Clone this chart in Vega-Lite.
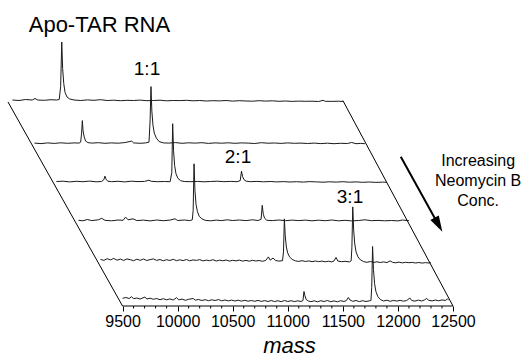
{
  "$schema": "https://vega.github.io/schema/vega-lite/v6.json",
  "width": 445,
  "height": 306,
  "autosize": {"type": "none"},
  "padding": {"left": 8, "top": 0, "right": 73, "bottom": 53},
  "background": "white",
  "config": {"view": {"stroke": null}, "font": "Liberation Sans"},
  "datasets": {
    "tr": [
      {"t":0,"m":9500,"i":1.5},{"t":0,"m":9560,"i":1.0},{"t":0,"m":9620,"i":2.0},{"t":0,"m":9680,"i":1.5},{"t":0,"m":9705,"i":3.0},{"t":0,"m":9730,"i":1.5},{"t":0,"m":9790,"i":1.2},{"t":0,"m":9850,"i":1.8},{"t":0,"m":9900,"i":1.5},{"t":0,"m":9925,"i":2.0},{"t":0,"m":9938,"i":15},{"t":0,"m":9948,"i":59.5},{"t":0,"m":9956,"i":33},{"t":0,"m":9966,"i":18},{"t":0,"m":9978,"i":9},{"t":0,"m":9996,"i":4.5},{"t":0,"m":10020,"i":2.5},{"t":0,"m":10060,"i":1.5},{"t":0,"m":10120,"i":1.0},{"t":0,"m":10180,"i":1.6},{"t":0,"m":10240,"i":1.2},{"t":0,"m":10300,"i":1.8},{"t":0,"m":10360,"i":1.0},{"t":0,"m":10420,"i":1.3},{"t":0,"m":10480,"i":0.8},{"t":0,"m":10540,"i":1.2},{"t":0,"m":10600,"i":1.0},{"t":0,"m":10660,"i":1.4},{"t":0,"m":10720,"i":0.8},{"t":0,"m":10780,"i":1.0},{"t":0,"m":10840,"i":1.3},{"t":0,"m":10900,"i":0.7},{"t":0,"m":10960,"i":1.0},{"t":0,"m":11020,"i":0.9},{"t":0,"m":11080,"i":1.2},{"t":0,"m":11140,"i":0.7},{"t":0,"m":11200,"i":1.0},{"t":0,"m":11260,"i":0.5},{"t":0,"m":11320,"i":0.8},{"t":0,"m":11380,"i":0.6},{"t":0,"m":11440,"i":1.0},{"t":0,"m":11500,"i":0.4},{"t":0,"m":11560,"i":0.8},{"t":0,"m":11620,"i":0.5},{"t":0,"m":11680,"i":0.3},{"t":0,"m":11740,"i":0.8},{"t":0,"m":11800,"i":0.4},{"t":0,"m":11860,"i":0.7},{"t":0,"m":11920,"i":0.2},{"t":0,"m":11980,"i":0.5},{"t":0,"m":12040,"i":0.1},{"t":0,"m":12100,"i":0.4},{"t":0,"m":12160,"i":0.2},{"t":0,"m":12220,"i":0.3},{"t":0,"m":12280,"i":0.0},{"t":0,"m":12320,"i":1.2},{"t":0,"m":12340,"i":0.2},{"t":0,"m":12400,"i":0.1},{"t":0,"m":12460,"i":0.3},{"t":0,"m":12500,"i":0.0},

      {"t":1,"m":9500,"i":-2},{"t":1,"m":9560,"i":-2.5},{"t":1,"m":9620,"i":-1.8},{"t":1,"m":9680,"i":-2.3},{"t":1,"m":9740,"i":-1.7},{"t":1,"m":9800,"i":-2.2},{"t":1,"m":9860,"i":-1.8},{"t":1,"m":9905,"i":-2},{"t":1,"m":9920,"i":-1},{"t":1,"m":9928,"i":8},{"t":1,"m":9935,"i":20.5},{"t":1,"m":9942,"i":10},{"t":1,"m":9952,"i":4},{"t":1,"m":9965,"i":0},{"t":1,"m":9985,"i":-1.5},{"t":1,"m":10020,"i":-2},{"t":1,"m":10080,"i":-1.6},{"t":1,"m":10140,"i":-2.2},{"t":1,"m":10200,"i":-1.8},{"t":1,"m":10260,"i":-2.1},{"t":1,"m":10320,"i":-1.5},{"t":1,"m":10383,"i":0},{"t":1,"m":10400,"i":-1.8},{"t":1,"m":10460,"i":-2.2},{"t":1,"m":10510,"i":-1.8},{"t":1,"m":10540,"i":-1},{"t":1,"m":10550,"i":20},{"t":1,"m":10558,"i":54.5},{"t":1,"m":10566,"i":30},{"t":1,"m":10576,"i":16},{"t":1,"m":10588,"i":8},{"t":1,"m":10607,"i":3},{"t":1,"m":10632,"i":-0.5},{"t":1,"m":10670,"i":-1.8},{"t":1,"m":10720,"i":-2},{"t":1,"m":10780,"i":-1.5},{"t":1,"m":10840,"i":-2.2},{"t":1,"m":10900,"i":-1.7},{"t":1,"m":10960,"i":-2.0},{"t":1,"m":11020,"i":-1.6},{"t":1,"m":11080,"i":-2.3},{"t":1,"m":11140,"i":-1.8},{"t":1,"m":11200,"i":-2.1},{"t":1,"m":11260,"i":-1.7},{"t":1,"m":11320,"i":-2.2},{"t":1,"m":11380,"i":-1.8},{"t":1,"m":11440,"i":-2.0},{"t":1,"m":11500,"i":-2.4},{"t":1,"m":11560,"i":-1.6},{"t":1,"m":11620,"i":-2.1},{"t":1,"m":11680,"i":-1.9},{"t":1,"m":11740,"i":-2.3},{"t":1,"m":11800,"i":-1.8},{"t":1,"m":11860,"i":-2.2},{"t":1,"m":11920,"i":-2.0},{"t":1,"m":11980,"i":-2.4},{"t":1,"m":12040,"i":-2.0},{"t":1,"m":12100,"i":-2.5},{"t":1,"m":12160,"i":-2.1},{"t":1,"m":12220,"i":-2.6},{"t":1,"m":12280,"i":-2.2},{"t":1,"m":12340,"i":-2.4},{"t":1,"m":12380,"i":-1.4},{"t":1,"m":12420,"i":-2.6},{"t":1,"m":12460,"i":-2.3},{"t":1,"m":12500,"i":-2.6},

      {"t":2,"m":9500,"i":-0.8},{"t":2,"m":9560,"i":-0.5},{"t":2,"m":9620,"i":-1.2},{"t":2,"m":9680,"i":-0.6},{"t":2,"m":9740,"i":-1.0},{"t":2,"m":9800,"i":-0.4},{"t":2,"m":9860,"i":-1.1},{"t":2,"m":9910,"i":-0.8},{"t":2,"m":9930,"i":1},{"t":2,"m":9940,"i":4.5},{"t":2,"m":9950,"i":1.5},{"t":2,"m":9965,"i":-0.5},{"t":2,"m":10000,"i":-1.0},{"t":2,"m":10060,"i":-0.6},{"t":2,"m":10120,"i":-1.2},{"t":2,"m":10180,"i":-0.5},{"t":2,"m":10240,"i":-0.9},{"t":2,"m":10300,"i":-0.7},{"t":2,"m":10340,"i":0.5},{"t":2,"m":10360,"i":-0.6},{"t":2,"m":10420,"i":-1.0},{"t":2,"m":10480,"i":-0.8},{"t":2,"m":10532,"i":-1.0},{"t":2,"m":10547,"i":8},{"t":2,"m":10555,"i":57},{"t":2,"m":10563,"i":30},{"t":2,"m":10573,"i":15},{"t":2,"m":10585,"i":7},{"t":2,"m":10602,"i":2.5},{"t":2,"m":10627,"i":0},{"t":2,"m":10660,"i":-0.8},{"t":2,"m":10720,"i":-1.0},{"t":2,"m":10780,"i":-0.7},{"t":2,"m":10840,"i":-1.1},{"t":2,"m":10900,"i":-0.8},{"t":2,"m":10960,"i":-0.5},{"t":2,"m":11020,"i":-1.0},{"t":2,"m":11080,"i":-0.7},{"t":2,"m":11140,"i":-1.0},{"t":2,"m":11168,"i":0},{"t":2,"m":11180,"i":9.5},{"t":2,"m":11190,"i":4},{"t":2,"m":11203,"i":1},{"t":2,"m":11223,"i":-0.5},{"t":2,"m":11260,"i":-1.0},{"t":2,"m":11320,"i":-0.7},{"t":2,"m":11380,"i":-1.1},{"t":2,"m":11440,"i":-0.8},{"t":2,"m":11500,"i":-1.2},{"t":2,"m":11560,"i":-0.9},{"t":2,"m":11620,"i":-1.3},{"t":2,"m":11680,"i":-1.0},{"t":2,"m":11740,"i":-1.4},{"t":2,"m":11800,"i":-0.9},{"t":2,"m":11860,"i":-1.2},{"t":2,"m":11920,"i":-1.5},{"t":2,"m":11980,"i":-1.1},{"t":2,"m":12040,"i":-1.4},{"t":2,"m":12100,"i":-1.0},{"t":2,"m":12160,"i":-1.5},{"t":2,"m":12220,"i":-1.2},{"t":2,"m":12280,"i":-1.6},{"t":2,"m":12340,"i":-1.3},{"t":2,"m":12400,"i":-1.7},{"t":2,"m":12460,"i":-1.4},{"t":2,"m":12500,"i":-1.6},

      {"t":3,"m":9500,"i":0},{"t":3,"m":9540,"i":-0.5},{"t":3,"m":9580,"i":0.8},{"t":3,"m":9620,"i":-0.3},{"t":3,"m":9680,"i":0.5},{"t":3,"m":9711,"i":2.0},{"t":3,"m":9740,"i":0},{"t":3,"m":9800,"i":-0.5},{"t":3,"m":9860,"i":0.3},{"t":3,"m":9905,"i":0},{"t":3,"m":9928,"i":3.2},{"t":3,"m":9950,"i":0.5},{"t":3,"m":9995,"i":1.5},{"t":3,"m":10030,"i":-0.3},{"t":3,"m":10090,"i":0.2},{"t":3,"m":10150,"i":-0.6},{"t":3,"m":10210,"i":0.3},{"t":3,"m":10270,"i":-0.4},{"t":3,"m":10330,"i":0.2},{"t":3,"m":10376,"i":1.5},{"t":3,"m":10400,"i":-0.2},{"t":3,"m":10460,"i":0.3},{"t":3,"m":10510,"i":-0.3},{"t":3,"m":10533,"i":0.5},{"t":3,"m":10541,"i":10},{"t":3,"m":10549,"i":56.5},{"t":3,"m":10557,"i":30},{"t":3,"m":10567,"i":16},{"t":3,"m":10579,"i":9},{"t":3,"m":10596,"i":4},{"t":3,"m":10620,"i":1.5},{"t":3,"m":10650,"i":0},{"t":3,"m":10700,"i":-0.5},{"t":3,"m":10750,"i":0.2},{"t":3,"m":10800,"i":-0.3},{"t":3,"m":10850,"i":0.5},{"t":3,"m":10900,"i":-0.2},{"t":3,"m":10960,"i":0.3},{"t":3,"m":11020,"i":-0.3},{"t":3,"m":11080,"i":0.5},{"t":3,"m":11130,"i":-0.2},{"t":3,"m":11158,"i":1},{"t":3,"m":11168,"i":15},{"t":3,"m":11178,"i":6},{"t":3,"m":11190,"i":2},{"t":3,"m":11210,"i":0},{"t":3,"m":11260,"i":-0.3},{"t":3,"m":11320,"i":0.3},{"t":3,"m":11380,"i":-0.4},{"t":3,"m":11440,"i":0.2},{"t":3,"m":11500,"i":-0.3},{"t":3,"m":11560,"i":0.2},{"t":3,"m":11620,"i":-0.5},{"t":3,"m":11680,"i":0.1},{"t":3,"m":11740,"i":-0.4},{"t":3,"m":11800,"i":0.3},{"t":3,"m":11860,"i":-0.5},{"t":3,"m":11920,"i":0.0},{"t":3,"m":11980,"i":-0.6},{"t":3,"m":12040,"i":-0.2},{"t":3,"m":12100,"i":0.5},{"t":3,"m":12160,"i":-0.4},{"t":3,"m":12220,"i":-0.1},{"t":3,"m":12280,"i":-0.5},{"t":3,"m":12340,"i":-0.2},{"t":3,"m":12400,"i":-0.6},{"t":3,"m":12440,"i":0.3},{"t":3,"m":12500,"i":-0.4},

      {"t":4,"m":9500,"i":0.5},{"t":4,"m":9530,"i":-0.5},{"t":4,"m":9560,"i":1.2},{"t":4,"m":9590,"i":0},{"t":4,"m":9620,"i":1.5},{"t":4,"m":9650,"i":-0.3},{"t":4,"m":9680,"i":0.8},{"t":4,"m":9710,"i":-0.5},{"t":4,"m":9740,"i":1.0},{"t":4,"m":9770,"i":0.2},{"t":4,"m":9800,"i":-0.8},{"t":4,"m":9830,"i":0.7},{"t":4,"m":9860,"i":-0.4},{"t":4,"m":9890,"i":0.9},{"t":4,"m":9920,"i":-0.6},{"t":4,"m":9950,"i":0.3},{"t":4,"m":9980,"i":1.0},{"t":4,"m":10010,"i":-0.5},{"t":4,"m":10040,"i":0.4},{"t":4,"m":10070,"i":-0.9},{"t":4,"m":10100,"i":0.2},{"t":4,"m":10130,"i":-0.6},{"t":4,"m":10160,"i":0.6},{"t":4,"m":10190,"i":-0.8},{"t":4,"m":10220,"i":0.1},{"t":4,"m":10250,"i":-0.7},{"t":4,"m":10280,"i":0.4},{"t":4,"m":10310,"i":-0.9},{"t":4,"m":10340,"i":0.0},{"t":4,"m":10370,"i":-0.5},{"t":4,"m":10400,"i":0.3},{"t":4,"m":10430,"i":-1.0},{"t":4,"m":10460,"i":-0.2},{"t":4,"m":10490,"i":-0.8},{"t":4,"m":10520,"i":0.2},{"t":4,"m":10550,"i":-1.1},{"t":4,"m":10580,"i":-0.3},{"t":4,"m":10610,"i":-0.9},{"t":4,"m":10640,"i":-0.1},{"t":4,"m":10670,"i":-1.2},{"t":4,"m":10700,"i":-0.4},{"t":4,"m":10730,"i":-1.0},{"t":4,"m":10760,"i":-0.2},{"t":4,"m":10790,"i":-1.2},{"t":4,"m":10820,"i":-0.5},{"t":4,"m":10850,"i":-1.3},{"t":4,"m":10880,"i":-0.4},{"t":4,"m":10910,"i":-1.1},{"t":4,"m":10940,"i":-0.6},{"t":4,"m":10970,"i":-1.4},{"t":4,"m":11000,"i":-0.5},{"t":4,"m":11024,"i":3.0},{"t":4,"m":11040,"i":-0.2},{"t":4,"m":11066,"i":1.8},{"t":4,"m":11090,"i":-0.6},{"t":4,"m":11120,"i":-1.2},{"t":4,"m":11152,"i":-0.8},{"t":4,"m":11161,"i":8},{"t":4,"m":11169,"i":41},{"t":4,"m":11177,"i":24},{"t":4,"m":11187,"i":13},{"t":4,"m":11199,"i":7},{"t":4,"m":11216,"i":3},{"t":4,"m":11240,"i":0.5},{"t":4,"m":11270,"i":-1.0},{"t":4,"m":11300,"i":-1.5},{"t":4,"m":11330,"i":-0.8},{"t":4,"m":11360,"i":-1.6},{"t":4,"m":11390,"i":-1.0},{"t":4,"m":11420,"i":-1.8},{"t":4,"m":11450,"i":-1.1},{"t":4,"m":11480,"i":-1.7},{"t":4,"m":11510,"i":-1.2},{"t":4,"m":11540,"i":-1.9},{"t":4,"m":11570,"i":-1.3},{"t":4,"m":11600,"i":-2.0},{"t":4,"m":11620,"i":-1.0},{"t":4,"m":11638,"i":2.5},{"t":4,"m":11655,"i":-1.2},{"t":4,"m":11690,"i":-1.8},{"t":4,"m":11720,"i":-1.4},{"t":4,"m":11760,"i":-2.0},{"t":4,"m":11775,"i":-1.0},{"t":4,"m":11782,"i":12},{"t":4,"m":11790,"i":53},{"t":4,"m":11798,"i":30},{"t":4,"m":11808,"i":16},{"t":4,"m":11820,"i":8},{"t":4,"m":11837,"i":3},{"t":4,"m":11860,"i":0},{"t":4,"m":11890,"i":-1.8},{"t":4,"m":11920,"i":-2.4},{"t":4,"m":11950,"i":-1.6},{"t":4,"m":11980,"i":-2.5},{"t":4,"m":12010,"i":-1.9},{"t":4,"m":12040,"i":-2.6},{"t":4,"m":12070,"i":-2.0},{"t":4,"m":12100,"i":-2.7},{"t":4,"m":12129,"i":-1.0},{"t":4,"m":12150,"i":-2.4},{"t":4,"m":12180,"i":-2.9},{"t":4,"m":12210,"i":-2.2},{"t":4,"m":12240,"i":-3.0},{"t":4,"m":12270,"i":-2.4},{"t":4,"m":12300,"i":-2.8},{"t":4,"m":12330,"i":-2.5},{"t":4,"m":12360,"i":-3.1},{"t":4,"m":12390,"i":-2.6},{"t":4,"m":12420,"i":-3.2},{"t":4,"m":12450,"i":-2.7},{"t":4,"m":12480,"i":-3.1},{"t":4,"m":12500,"i":-2.9},

      {"t":5,"m":9500,"i":1.2},{"t":5,"m":9530,"i":2.0},{"t":5,"m":9560,"i":1.0},{"t":5,"m":9582,"i":2.8},{"t":5,"m":9600,"i":0.8},{"t":5,"m":9630,"i":1.5},{"t":5,"m":9660,"i":0.5},{"t":5,"m":9703,"i":2.5},{"t":5,"m":9720,"i":0.5},{"t":5,"m":9750,"i":1.3},{"t":5,"m":9780,"i":0.2},{"t":5,"m":9810,"i":1.0},{"t":5,"m":9840,"i":-0.2},{"t":5,"m":9870,"i":0.8},{"t":5,"m":9900,"i":-0.3},{"t":5,"m":9930,"i":0.6},{"t":5,"m":9960,"i":-0.5},{"t":5,"m":9990,"i":1.8},{"t":5,"m":10010,"i":-0.3},{"t":5,"m":10040,"i":0.4},{"t":5,"m":10070,"i":-0.8},{"t":5,"m":10100,"i":0.2},{"t":5,"m":10142,"i":1.0},{"t":5,"m":10160,"i":-0.7},{"t":5,"m":10190,"i":0.0},{"t":5,"m":10220,"i":-1.0},{"t":5,"m":10250,"i":-0.2},{"t":5,"m":10280,"i":-1.2},{"t":5,"m":10310,"i":-0.3},{"t":5,"m":10340,"i":-1.0},{"t":5,"m":10370,"i":-0.1},{"t":5,"m":10400,"i":-1.3},{"t":5,"m":10430,"i":-0.5},{"t":5,"m":10460,"i":-1.4},{"t":5,"m":10490,"i":-0.6},{"t":5,"m":10520,"i":-1.5},{"t":5,"m":10550,"i":-0.7},{"t":5,"m":10580,"i":-1.6},{"t":5,"m":10610,"i":-0.8},{"t":5,"m":10640,"i":-1.7},{"t":5,"m":10670,"i":-1.0},{"t":5,"m":10700,"i":-1.8},{"t":5,"m":10730,"i":-0.9},{"t":5,"m":10760,"i":-1.9},{"t":5,"m":10790,"i":-1.1},{"t":5,"m":10820,"i":-2.0},{"t":5,"m":10850,"i":-1.0},{"t":5,"m":10880,"i":-2.1},{"t":5,"m":10910,"i":-1.2},{"t":5,"m":10940,"i":-2.2},{"t":5,"m":10970,"i":-1.0},{"t":5,"m":11000,"i":-2.0},{"t":5,"m":11030,"i":-1.2},{"t":5,"m":11060,"i":-2.1},{"t":5,"m":11090,"i":-1.3},{"t":5,"m":11120,"i":-2.0},{"t":5,"m":11138,"i":-1.0},{"t":5,"m":11147,"i":8},{"t":5,"m":11155,"i":4},{"t":5,"m":11167,"i":0},{"t":5,"m":11187,"i":-1.5},{"t":5,"m":11210,"i":-2.2},{"t":5,"m":11240,"i":-1.3},{"t":5,"m":11270,"i":-2.3},{"t":5,"m":11300,"i":-1.2},{"t":5,"m":11330,"i":-2.0},{"t":5,"m":11360,"i":-1.0},{"t":5,"m":11390,"i":-2.2},{"t":5,"m":11420,"i":-1.4},{"t":5,"m":11450,"i":-2.3},{"t":5,"m":11480,"i":-1.2},{"t":5,"m":11510,"i":-2.0},{"t":5,"m":11532,"i":-1.0},{"t":5,"m":11550,"i":2.0},{"t":5,"m":11565,"i":-0.5},{"t":5,"m":11590,"i":-1.8},{"t":5,"m":11620,"i":-1.0},{"t":5,"m":11650,"i":-2.1},{"t":5,"m":11680,"i":-1.2},{"t":5,"m":11710,"i":-2.0},{"t":5,"m":11740,"i":-1.3},{"t":5,"m":11755,"i":-1.0},{"t":5,"m":11762,"i":12},{"t":5,"m":11770,"i":53},{"t":5,"m":11778,"i":30},{"t":5,"m":11788,"i":16},{"t":5,"m":11800,"i":8},{"t":5,"m":11817,"i":3},{"t":5,"m":11840,"i":0},{"t":5,"m":11870,"i":-1.5},{"t":5,"m":11900,"i":-0.7},{"t":5,"m":11930,"i":-1.8},{"t":5,"m":11960,"i":-0.9},{"t":5,"m":11990,"i":-1.6},{"t":5,"m":12020,"i":-0.8},{"t":5,"m":12050,"i":-1.7},{"t":5,"m":12080,"i":-1.0},{"t":5,"m":12108,"i":1.5},{"t":5,"m":12125,"i":-1.0},{"t":5,"m":12155,"i":-1.6},{"t":5,"m":12185,"i":-0.6},{"t":5,"m":12215,"i":-1.5},{"t":5,"m":12240,"i":-0.5},{"t":5,"m":12260,"i":1.0},{"t":5,"m":12280,"i":-0.8},{"t":5,"m":12310,"i":-1.4},{"t":5,"m":12340,"i":-0.5},{"t":5,"m":12370,"i":-1.3},{"t":5,"m":12400,"i":-0.4},{"t":5,"m":12430,"i":-1.0},{"t":5,"m":12450,"i":0.5},{"t":5,"m":12460,"i":-0.3}
    ],
    "frame": [
      {"x": 8460, "y": 204, "x2": 9500, "y2": 0},
      {"x": 11500, "y": 205.5, "x2": 12500, "y2": 0},
      {"x": 9500, "y": 0, "x2": 12500, "y2": 0}
    ],
    "minor": [
      {"x": 9600},{"x": 9700},{"x": 9800},{"x": 9900},
      {"x": 10100},{"x": 10200},{"x": 10300},{"x": 10400},
      {"x": 10600},{"x": 10700},{"x": 10800},{"x": 10900},
      {"x": 11100},{"x": 11200},{"x": 11300},{"x": 11400},
      {"x": 11600},{"x": 11700},{"x": 11800},{"x": 11900},
      {"x": 12100},{"x": 12200},{"x": 12300},{"x": 12400}
    ],
    "big": [{"x": 9290, "y": 274.3, "label": "Apo-TAR RNA"}],
    "ratios": [
      {"x": 9722, "y": 231, "label": "1:1"},
      {"x": 10548, "y": 142.7, "label": "2:1"},
      {"x": 11565, "y": 103.3, "label": "3:1"}
    ],
    "side": [
      {"x": 12728, "y": 140.5, "label": "Increasing"},
      {"x": 12728, "y": 120.5, "label": "Neomycin B"},
      {"x": 12728, "y": 100.5, "label": "Conc."}
    ],
    "xtitle": [{"x": 11016, "y": -47, "label": "mass"}],
    "arrow": [{"x": 12026, "y": 149.3, "x2": 12368, "y2": 81.3}],
    "head": [{"x": 12368, "y": 81.3}]
  },
  "layer": [
    {
      "data": {"name": "tr"},
      "transform": [
        {"calculate": "datum.m - 200 * (5 - datum.t)", "as": "x"},
        {"calculate": "datum.i + 6.5 + 39.6 * (5 - datum.t)", "as": "y"}
      ],
      "mark": {"type": "line", "color": "#1a1a1a", "strokeWidth": 1},
      "encoding": {
        "x": {"field": "x", "type": "quantitative",
              "scale": {"domain": [8460, 12500], "nice": false, "zero": false},
              "axis": {"values": [9500, 10000, 10500, 11000, 11500, 12000, 12500],
                       "format": "d",
                       "title": null, "domain": false, "grid": false,
                       "tickSize": 5, "tickColor": "black", "tickWidth": 1,
                       "labelFontSize": 16, "labelColor": "black", "labelFont": "Liberation Sans",
                       "labelPadding": 2, "labelFlush": false, "labelOverlap": false}},
        "y": {"field": "y", "type": "quantitative",
              "scale": {"domain": [0, 306], "nice": false, "zero": false}, "axis": null},
        "detail": {"field": "t", "type": "nominal"},
        "order": {"field": "m", "type": "quantitative"}
      }
    },
    {
      "data": {"name": "frame"},
      "mark": {"type": "rule", "color": "black", "strokeWidth": 1},
      "encoding": {
        "x": {"field": "x", "type": "quantitative"},
        "y": {"field": "y", "type": "quantitative"},
        "x2": {"field": "x2"},
        "y2": {"field": "y2"}
      }
    },
    {
      "data": {"name": "minor"},
      "mark": {"type": "rule", "color": "black", "strokeWidth": 1},
      "encoding": {
        "x": {"field": "x", "type": "quantitative"},
        "y": {"datum": 0},
        "y2": {"datum": -2.5}
      }
    },
    {
      "data": {"name": "big"},
      "mark": {"type": "text", "fontSize": 22, "font": "Liberation Sans", "align": "center", "baseline": "alphabetic", "color": "black"},
      "encoding": {
        "x": {"field": "x", "type": "quantitative"},
        "y": {"field": "y", "type": "quantitative"},
        "text": {"field": "label"}
      }
    },
    {
      "data": {"name": "ratios"},
      "mark": {"type": "text", "fontSize": 19, "font": "Liberation Sans", "align": "center", "baseline": "alphabetic", "color": "black"},
      "encoding": {
        "x": {"field": "x", "type": "quantitative"},
        "y": {"field": "y", "type": "quantitative"},
        "text": {"field": "label"}
      }
    },
    {
      "data": {"name": "side"},
      "mark": {"type": "text", "fontSize": 16, "font": "Liberation Sans", "align": "center", "baseline": "alphabetic", "color": "black"},
      "encoding": {
        "x": {"field": "x", "type": "quantitative"},
        "y": {"field": "y", "type": "quantitative"},
        "text": {"field": "label"}
      }
    },
    {
      "data": {"name": "xtitle"},
      "mark": {"type": "text", "fontSize": 22, "font": "Liberation Sans", "fontStyle": "italic", "align": "center", "baseline": "alphabetic", "color": "black"},
      "encoding": {
        "x": {"field": "x", "type": "quantitative"},
        "y": {"field": "y", "type": "quantitative"},
        "text": {"field": "label"}
      }
    },
    {
      "data": {"name": "arrow"},
      "mark": {"type": "rule", "color": "black", "strokeWidth": 2},
      "encoding": {
        "x": {"field": "x", "type": "quantitative"},
        "y": {"field": "y", "type": "quantitative"},
        "x2": {"field": "x2"},
        "y2": {"field": "y2"}
      }
    },
    {
      "data": {"name": "head"},
      "mark": {"type": "point", "shape": "M-0.6,-1L0.6,-1L0,1Z", "size": 256, "angle": 331, "filled": true, "color": "black", "opacity": 1, "strokeWidth": 0},
      "encoding": {
        "x": {"field": "x", "type": "quantitative"},
        "y": {"field": "y", "type": "quantitative"}
      }
    }
  ]
}
